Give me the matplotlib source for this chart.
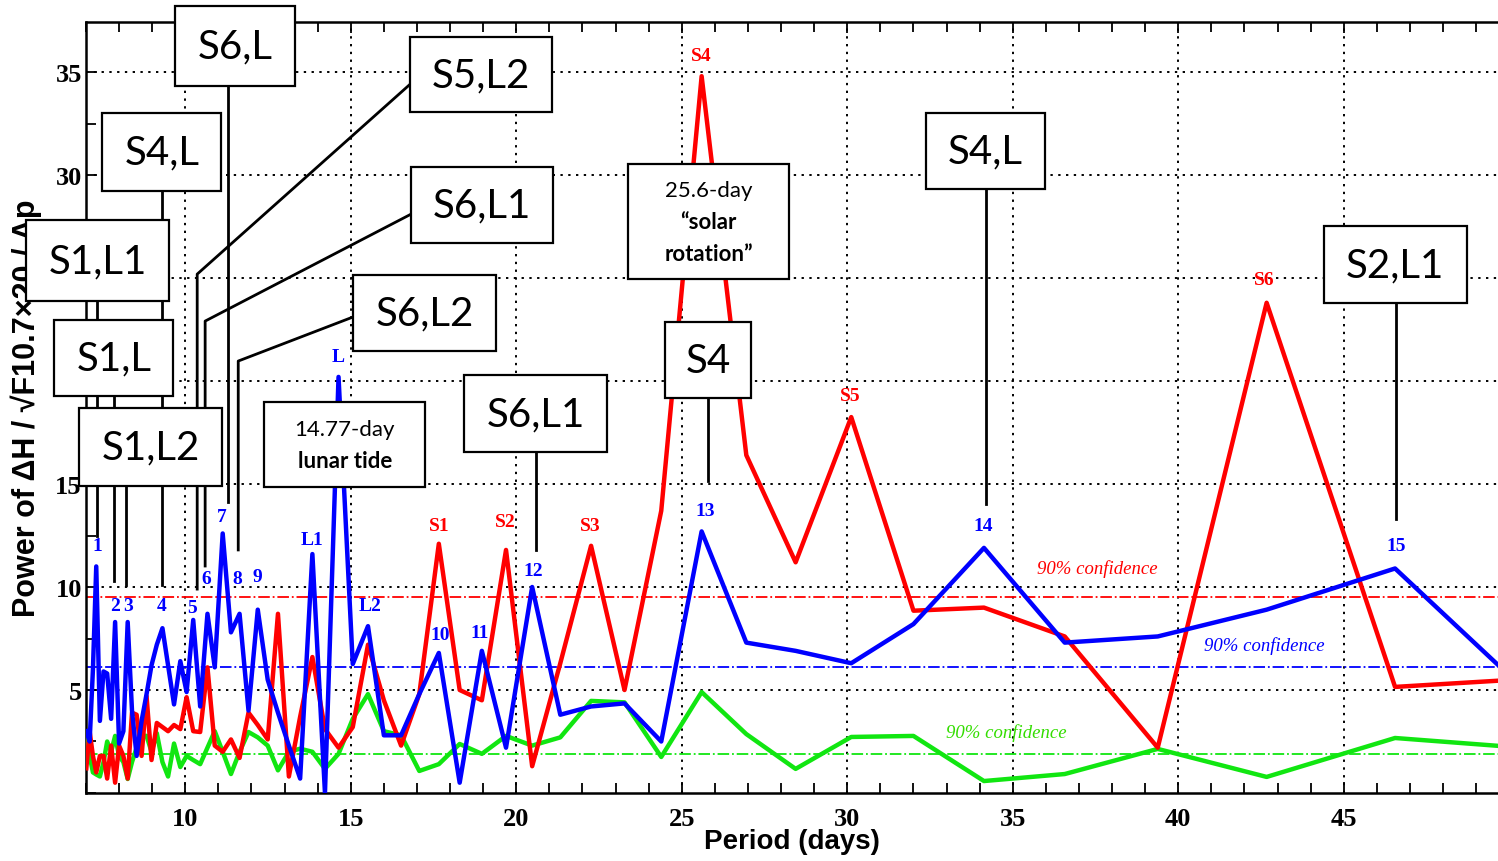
import matplotlib
matplotlib.use("Agg")
import matplotlib.pyplot as plt
from matplotlib.patches import Rectangle
from matplotlib.ticker import MultipleLocator, FixedLocator

# periodogram bins (days)
period = [7.01, 7.11, 7.21, 7.31, 7.42, 7.53, 7.64, 7.76, 7.88, 8.00,
          8.13, 8.26, 8.39, 8.53, 8.68, 8.83, 8.98, 9.14, 9.31, 9.48,
          9.66, 9.85, 10.04, 10.24, 10.45, 10.67, 10.89, 11.13, 11.38, 11.64,
          11.91, 12.19, 12.49, 12.80, 13.13, 13.47, 13.84, 14.22, 14.63, 15.06,
          15.52, 16.00, 16.52, 17.07, 17.66, 18.29, 18.96, 19.69, 20.48, 21.33,
          22.26, 23.27, 24.38, 25.60, 26.95, 28.44, 30.12, 32.00, 34.13, 36.57,
          39.38, 42.67, 46.55, 51.20]

# power of dH / sqrt(F10.7)x20 / Ap
power_blue = [3.0, 2.5, 6.0, 11.0, 3.5, 5.9, 5.8, 3.6, 8.3, 2.4,
              3.0, 8.3, 4.0, 1.8, 3.5, 4.8, 6.2, 7.2, 8.0, 6.2,
              4.3, 6.4, 4.9, 8.4, 4.2, 8.7, 6.1, 12.6, 7.8, 8.7,
              4.0, 8.9, 5.5, 3.9, 2.3, 0.7, 11.6, 0.0, 20.2, 6.26,
              8.1, 2.8, 2.8, 4.8, 6.8, 0.5, 6.9, 2.2, 10.0, 3.8,
              4.2, 4.35, 2.5, 12.7, 7.3, 6.9, 6.3, 8.2, 11.9, 7.3,
              7.6, 8.9, 10.9, 3.9]
power_red = [1.2, 3.0, 1.8, 1.0, 1.8, 1.8, 0.7, 2.3, 0.5, 2.3,
             1.8, 0.7, 3.9, 3.8, 1.8, 4.7, 1.6, 3.4, 3.2, 3.0,
             3.3, 3.1, 4.65, 3.0, 2.96, 6.1, 2.3, 2.0, 2.6, 1.7,
             3.9, 3.3, 2.6, 8.7, 0.8, 3.7, 6.6, 3.1, 2.2, 3.2,
             7.2, 4.5, 2.3, 4.8, 12.1, 5.0, 4.5, 11.8, 1.3, 6.3,
             12.0, 5.0, 13.7, 34.8, 16.4, 11.2, 18.25, 8.85, 9.0, 7.6,
             2.2, 23.8, 5.15, 5.6]
power_green = [2.77, 1.8, 1.0, 0.9, 0.8, 1.5, 2.5, 2.0, 2.77, 1.8,
               1.5, 0.68, 1.5, 2.2, 2.8, 2.77, 2.0, 2.9, 1.5, 0.8,
               2.4, 1.26, 1.8, 1.6, 1.4, 2.2, 3.0, 2.0, 0.92, 2.0,
               2.96, 2.7, 2.3, 1.1, 2.0, 2.15, 2.0, 1.17, 1.9, 3.6,
               4.8, 3.0, 2.8, 1.07, 1.4, 2.38, 1.9, 2.77, 2.3, 2.7,
               4.47, 4.4, 1.75, 4.9, 2.86, 1.17, 2.72, 2.77, 0.58, 0.92,
               2.14, 0.78, 2.67, 2.1]

# 90% confidence levels
conf_blue = 6.13
conf_red = 9.5
conf_green = 1.9

# peak labels (text, x, y)
blue_labels = [("1", 7.34, 12.0), ("2", 7.89, 9.1), ("3", 8.28, 9.1), ("4", 9.28, 9.1),
               ("5", 10.2, 9.0), ("6", 10.63, 10.4), ("7", 11.1, 13.4), ("8", 11.57, 10.4),
               ("9", 12.17, 10.5), ("L1", 13.84, 12.3), ("L", 14.62, 21.2), ("L2", 15.59, 9.1),
               ("10", 17.7, 7.7), ("11", 18.9, 7.8), ("12", 20.5, 10.8), ("13", 25.7, 13.7),
               ("14", 34.1, 13.0), ("15", 46.57, 12.0)]
red_labels = [("S1", 17.67, 13.0), ("S2", 19.66, 13.2), ("S3", 22.23, 13.0),
              ("S4", 25.6, 35.8), ("S5", 30.08, 19.3), ("S6", 42.6, 24.95)]
conf_texts = [(37.55, 10.9, "red"), (42.6, 7.2, "blue"), (34.8, 2.96, "#33dd00")]

# annotation boxes: text, x0, x1, y0, y1
boxes = [("S6,L", 9.70, 13.32, 34.32, 38.20),
         ("S4,L", 7.49, 11.09, 29.22, 33.01),
         ("S1,L1", 5.20, 9.52, 23.88, 27.82),
         ("S1,L", 6.04, 9.64, 19.27, 22.96),
         ("S1,L2", 6.80, 11.12, 14.90, 18.69),
         ("S5,L2", 16.80, 21.08, 33.06, 36.70),
         ("S6,L1", 16.83, 21.11, 26.70, 30.39),
         ("S6,L2", 15.07, 19.39, 21.46, 25.15),
         ("S6,L1", 18.43, 22.75, 16.55, 20.29),
         ("S4", 24.50, 27.09, 19.17, 22.86),
         ("S4,L", 32.38, 35.97, 29.32, 33.01),
         ("S2,L1", 44.40, 48.72, 23.79, 27.52)]
note_boxes = [([("25.6-day", "normal"), ("\u201csolar", "bold"), ("rotation\u201d", "bold")],
               23.38, 28.24, 24.95, 30.53),
              ([("14.77-day", "normal"), ("lunar tide", "bold")],
               12.39, 17.25, 14.85, 18.98)]
leaders = [([7.34, 7.34], [23.88, 12.48]),
           ([7.86, 7.86], [19.27, 10.3]),
           ([8.22, 8.22], [14.90, 10.1]),
           ([9.31, 9.31], [29.22, 10.1]),
           ([16.80, 10.36, 10.36], [34.42, 25.19, 9.9]),
           ([16.83, 10.60, 10.60], [28.11, 22.91, 11.02]),
           ([11.30, 11.30], [34.32, 14.13]),
           ([15.07, 11.60, 11.60], [23.11, 20.97, 11.8]),
           ([20.60, 20.60], [16.55, 11.8]),
           ([25.80, 25.80], [19.17, 15.15]),
           ([34.19, 34.19], [29.32, 14.03]),
           ([46.57, 46.57], [23.79, 13.3])]

fig = plt.figure(figsize=(14.98, 8.62), dpi=100)
ax = fig.add_axes([0.0574, 0.0789, 0.9426, 0.8944])

green = "#11e611"
ax.plot(period, power_green, color=green, lw=3.2, zorder=3)
ax.plot(period, power_red, color="red", lw=3.2, zorder=3)
ax.plot(period, power_blue, color="blue", lw=3.2, zorder=3)

ax.axhline(conf_red, color="red", lw=1.3, ls="-.", zorder=2)
ax.axhline(conf_blue, color="blue", lw=1.3, ls="-.", zorder=2)
ax.axhline(conf_green, color=green, lw=1.3, ls="-.", zorder=2)

ax.set_xlim(7.0, 49.66)
ax.set_ylim(0, 37.43)
ax.xaxis.set_major_locator(MultipleLocator(5))
ax.xaxis.set_minor_locator(MultipleLocator(1))
ax.yaxis.set_major_locator(FixedLocator([5, 10, 15, 20, 25, 30, 35]))
ax.yaxis.set_minor_locator(MultipleLocator(2.5))
ax.tick_params(which="both", direction="in", top=True, right=False, width=1.3)
ax.tick_params(which="major", length=8)
ax.tick_params(which="minor", length=7)
ax.tick_params(axis="x", pad=10)
ax.tick_params(axis="y", pad=3)
for lab in ax.get_xticklabels() + ax.get_yticklabels():
    lab.set_fontfamily("Liberation Serif")
    lab.set_fontweight("bold")
    lab.set_fontsize(19)
ax.grid(True, which="major", color="black", lw=1.4, ls=(0, (1.2, 2.8)), zorder=1)
for s in ["left", "bottom", "top"]:
    ax.spines[s].set_linewidth(1.8)
ax.spines["right"].set_visible(False)

ax.set_xlabel("Period (days)", fontsize=20, fontweight="bold", family="Liberation Sans")
ax.set_ylabel("Power of \u0394H / \u221aF10.7\u00d720 / Ap", fontsize=22, fontweight="bold",
              family="Liberation Sans")
ax.xaxis.set_label_coords(0.5, -0.046)
ax.yaxis.set_label_coords(-0.031, 0.5)

for t, x, y in blue_labels:
    ax.text(x, y, t, color="blue", fontsize=14, fontweight="bold", family="Liberation Serif",
            ha="center", va="center", zorder=4)
for t, x, y in red_labels:
    ax.text(x, y, t, color="red", fontsize=14, fontweight="bold", family="Liberation Serif",
            ha="center", va="center", zorder=4)
for x, y, c in conf_texts:
    ax.text(x, y, "90% confidence", color=c, fontsize=13.5, style="italic",
            family="Liberation Serif", ha="center", va="center", zorder=4)

for xs, ys in leaders:
    ax.plot(xs, ys, color="black", lw=2, zorder=5, clip_on=False)

for t, x0, x1, y0, y1 in boxes:
    ax.add_patch(Rectangle((x0, y0), x1 - x0, y1 - y0, facecolor="white", edgecolor="black",
                           lw=1.6, zorder=6, clip_on=False))
    ax.text((x0 + x1) / 2, (y0 + y1) / 2, t, fontsize=29, family="Lato", ha="center",
            va="center", zorder=7, clip_on=False)

for lines, x0, x1, y0, y1 in note_boxes:
    ax.add_patch(Rectangle((x0, y0), x1 - x0, y1 - y0, facecolor="white", edgecolor="black",
                           lw=1.6, zorder=6, clip_on=False))
    n = len(lines)
    step = 1.55
    yc = (y0 + y1) / 2 + step * (n - 1) / 2
    for i, (t, w) in enumerate(lines):
        ax.text((x0 + x1) / 2, yc - i * step, t, fontsize=16, fontweight=w, family="Lato",
                ha="center", va="center", zorder=7)

fig.savefig("out.png", dpi=100)
